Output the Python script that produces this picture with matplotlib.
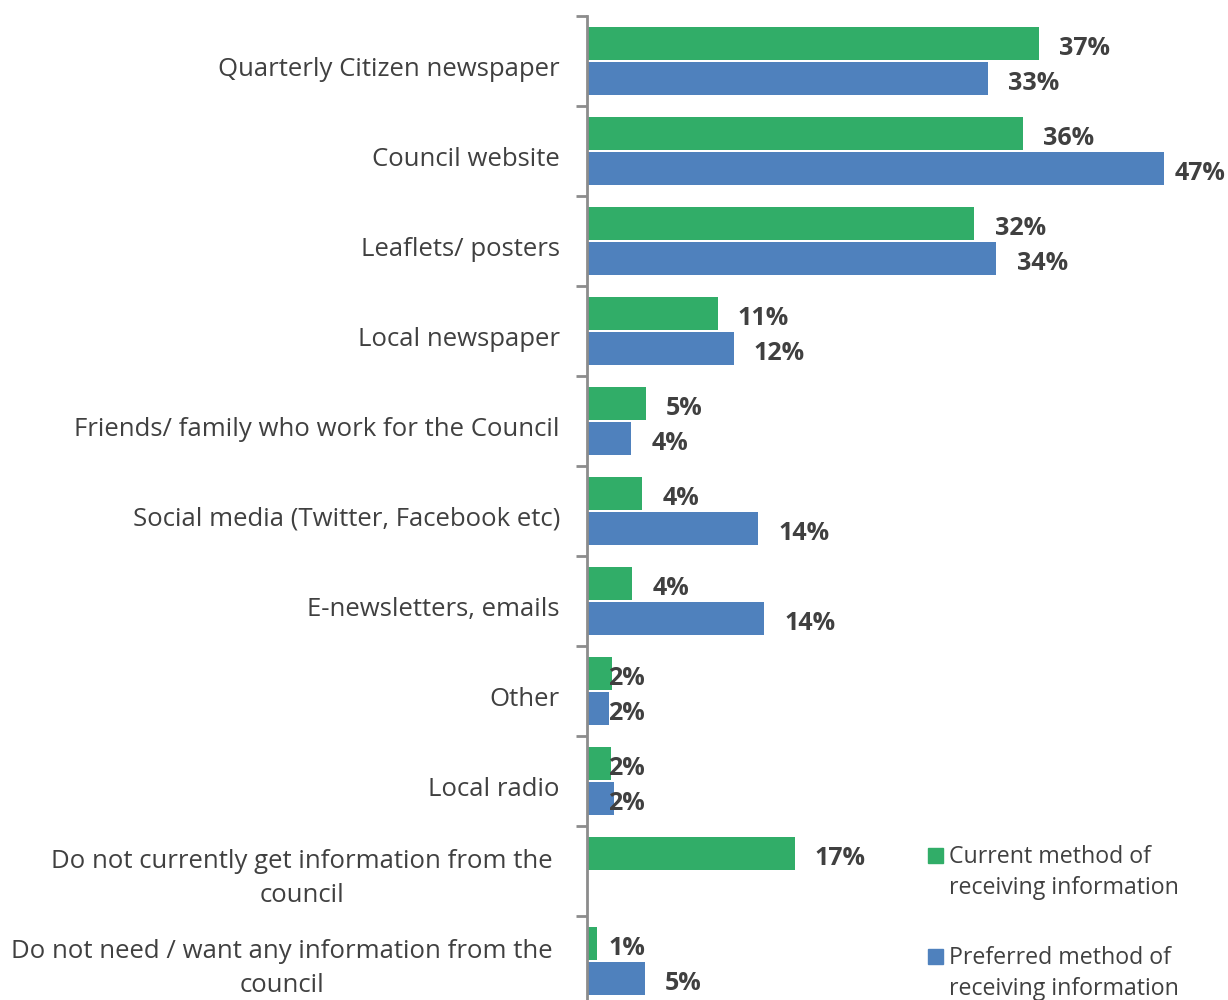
import matplotlib.pyplot as plt
from matplotlib.patches import Rectangle
from matplotlib.transforms import ScaledTranslation

# --- data ---
categories = [
    'Quarterly Citizen newspaper',
    'Council website',
    'Leaflets/ posters',
    'Local newspaper',
    'Friends/ family who work for the Council',
    'Social media (Twitter, Facebook etc)',
    'E-newsletters, emails',
    'Other',
    'Local radio',
    'Do not currently get information from the\ncouncil',
    'Do not need / want any information from the\ncouncil',
]
current = [37.0, 35.7, 31.7, 10.7, 4.8, 4.5, 3.7, 2.05, 2.0, 17.0, 0.8]
current_labels = ['37%', '36%', '32%', '11%', '5%', '4%', '4%', '2%', '2%', '17%', '1%']
preferred = [32.8, 47.2, 33.5, 12.0, 3.6, 14.0, 14.5, 1.8, 2.2, None, 4.75]
preferred_labels = ['33%', '47%', '34%', '12%', '4%', '14%', '14%', '2%', '2%', '', '5%']
legend_labels = ['Current method of\nreceiving information',
                 'Preferred method of\nreceiving information']

GREEN = '#31AD68'
BLUE = '#4F81BD'
TEXT = '#404040'
FONT = 'Open Sans'
FS = 18.5

plt.rcParams['font.family'] = [FONT, 'DejaVu Sans']

fig = plt.figure(figsize=(12.28, 10), dpi=100)
ax = fig.add_axes([587 / 1228, -0.006, 1 - 587 / 1228, 0.99])
XMAX = 641 / 12.22

n = len(categories)
h = 0.37
shift = 0.0
off = 0.195


def label_x(v):
    # Excel-like outside-end label, kept inside the plot area
    x = v + 1.65 if v >= 3 else 1.72
    return min(x, XMAX - 4.35)


for i in range(n):
    yc = i + shift
    cv = current[i]
    ax.barh(yc - off, cv, height=h, color=GREEN)
    ax.text(label_x(cv), yc - off + 0.06, current_labels[i], ha='left', va='center',
            fontsize=18, fontweight='bold', color=TEXT)
    pv = preferred[i]
    if pv is not None:
        ax.barh(yc + off, pv, height=h, color=BLUE)
        ax.text(label_x(pv), yc + off + 0.06, preferred_labels[i], ha='left', va='center',
                fontsize=18, fontweight='bold', color=TEXT)

ax.set_xlim(0, XMAX)
ax.set_ylim(n - 0.5, -0.5)

# category labels
ax.set_yticks([i + (0.0 if '\n' in c else 0.06) for i, c in enumerate(categories)])
ax.set_yticklabels(categories, fontsize=FS, color=TEXT, multialignment='center',
                   linespacing=1.5)
ax.tick_params(axis='y', length=0, pad=19.5)
ax.set_yticks([i - 0.5 for i in range(n + 1)], minor=True)
ax.tick_params(axis='y', which='minor', length=8, width=2, color='#8c8c8c')
ax.set_xticks([])

# wrapped labels sit a little further from the axis
for lab in ax.get_yticklabels():
    if '\n' in lab.get_text():
        lab.set_transform(lab.get_transform() + ScaledTranslation(-7 / 100, 0, fig.dpi_scale_trans))

for s in ['top', 'right', 'bottom']:
    ax.spines[s].set_visible(False)
ax.spines['left'].set_color('#8c8c8c')
ax.spines['left'].set_linewidth(2)

# legend, square next to first line of each entry
W, H = 1228, 1000
for k, (lab, col) in enumerate(zip(legend_labels, [GREEN, BLUE])):
    top = 848 + k * 101
    fig.patches.append(Rectangle((928 / W, 1 - (top + 15) / H), 15 / W, 15 / H,
                                 color=col, transform=fig.transFigure))
    fig.text(949 / W, 1 - (top - 3) / H, lab, ha='left', va='top',
             fontsize=16.7, color=TEXT, linespacing=1.4)

fig.savefig('out.png', dpi=100)
